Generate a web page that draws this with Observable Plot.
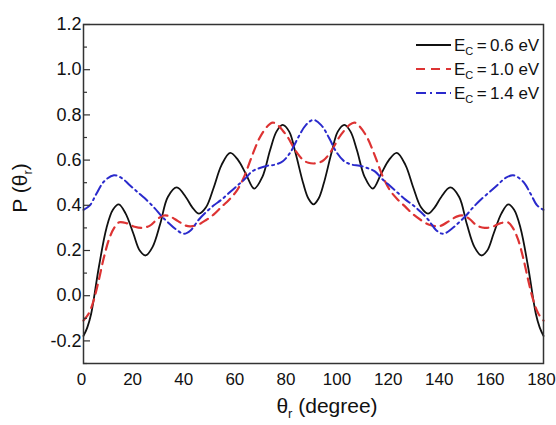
<!DOCTYPE html>
<html>
<head>
<meta charset="utf-8">
<script src="https://cdn.jsdelivr.net/npm/d3@7"></script>
<script src="https://cdn.jsdelivr.net/npm/@observablehq/plot@0.6"></script>
<style>
  html, body { margin: 0; padding: 0; background: #fff; }
  svg { display: block; }
</style>
</head>
<body>
<div id="chart"></div>
<script>
// ---- data ----
const seriesNames = ["E_C = 0.6 eV", "E_C = 1.0 eV", "E_C = 1.4 eV"];
const legendValues = ["0.6", "1.0", "1.4"];

const thetaBlack = [0, 1.5, 3, 6, 9, 11.5, 13.8, 16.5, 19.5, 22, 24.3, 27, 30, 33, 36.5, 40, 42.5, 45.2, 48, 51, 54, 57.4, 60.5, 63.5, 66.8, 70, 73, 75.5, 77.9, 80.5, 83, 86, 88, 90,
  92, 94, 97, 99.5, 102.1, 104.5, 107, 110, 113.2, 116.5, 119.5, 122.6, 126, 129, 132, 134.8, 137.5, 140, 143.5, 147, 150, 153, 155.7, 158, 160.5, 163.5, 166.2, 168.5, 171, 174, 177, 178.5, 180];
const pBlack = [-0.178, -0.14, -0.08, 0.126, 0.30, 0.38, 0.404, 0.363, 0.275, 0.20, 0.178, 0.215, 0.317, 0.437, 0.479, 0.437, 0.392, 0.363, 0.392, 0.48, 0.578, 0.632, 0.60, 0.54, 0.474, 0.526, 0.644, 0.726, 0.756, 0.726, 0.63, 0.496, 0.43, 0.404,
  0.43, 0.496, 0.63, 0.726, 0.756, 0.726, 0.644, 0.526, 0.474, 0.54, 0.60, 0.632, 0.578, 0.48, 0.392, 0.363, 0.392, 0.437, 0.479, 0.437, 0.317, 0.215, 0.178, 0.20, 0.275, 0.363, 0.404, 0.38, 0.30, 0.126, -0.08, -0.14, -0.178];

const thetaRed = [0, 2, 4, 6, 8, 10, 12, 14, 17, 20, 23, 26, 29, 31.5, 34, 37, 40, 42, 45, 48, 51, 54, 57, 60, 63, 66, 69, 72, 74, 76, 78, 80, 82, 84, 86, 88, 90,
  92, 94, 96, 98, 100, 102, 104, 106, 108, 111, 114, 117, 120, 123, 126, 129, 132, 135, 138, 140, 143, 146, 148.5, 151, 154, 157, 160, 163, 166, 168, 170, 172, 174, 176, 178, 180];
const pRed = [-0.11, -0.08, -0.02, 0.07, 0.17, 0.25, 0.30, 0.325, 0.32, 0.305, 0.30, 0.31, 0.34, 0.355, 0.35, 0.33, 0.31, 0.307, 0.315, 0.335, 0.36, 0.393, 0.425, 0.465, 0.53, 0.62, 0.70, 0.75, 0.766, 0.755, 0.73, 0.70, 0.66, 0.625, 0.60, 0.588, 0.585,
  0.588, 0.60, 0.625, 0.66, 0.70, 0.73, 0.755, 0.766, 0.75, 0.70, 0.62, 0.53, 0.465, 0.425, 0.393, 0.36, 0.335, 0.315, 0.307, 0.31, 0.33, 0.35, 0.355, 0.34, 0.31, 0.30, 0.305, 0.32, 0.325, 0.30, 0.25, 0.17, 0.07, -0.02, -0.08, -0.11];

const thetaBlue = [0, 2.5, 5, 8, 11.9, 15, 18, 21, 25, 28, 30.3, 33, 36, 39.3, 42, 45, 48, 51, 54, 57, 60, 63, 66, 69, 72, 75, 78, 81, 84, 87, 90,
  93, 96, 99, 102, 105, 108, 111, 114, 117, 120, 123, 126, 129, 132, 135, 138, 140.7, 144, 147, 149.7, 152, 155, 159, 162, 165, 168.1, 172, 175, 177.5, 180];
const pBlue = [0.38, 0.40, 0.45, 0.505, 0.533, 0.52, 0.49, 0.46, 0.42, 0.385, 0.355, 0.325, 0.295, 0.274, 0.29, 0.335, 0.37, 0.40, 0.425, 0.455, 0.485, 0.515, 0.55, 0.565, 0.575, 0.58, 0.595, 0.635, 0.70, 0.755, 0.778,
  0.755, 0.70, 0.635, 0.595, 0.58, 0.575, 0.565, 0.55, 0.515, 0.485, 0.455, 0.425, 0.40, 0.37, 0.335, 0.29, 0.274, 0.295, 0.325, 0.355, 0.385, 0.42, 0.46, 0.49, 0.52, 0.533, 0.505, 0.45, 0.40, 0.38];

const xTicks = [0, 20, 40, 60, 80, 100, 120, 140, 160, 180];
const xTickLabels = ["0", "20", "40", "60", "80", "100", "120", "140", "160", "180"];
const yTicks = [-0.2, 0.0, 0.2, 0.4, 0.6, 0.8, 1.0, 1.2];
const yTickLabels = ["-0.2", "0.0", "0.2", "0.4", "0.6", "0.8", "1.0", "1.2"];
const yMinorTicks = [-0.3, -0.1, 0.1, 0.3, 0.5, 0.7, 0.9, 1.1];

// ---- tables for the library ----
const toRows = (xs, ys) => xs.map((t, i) => ({theta: t, p: ys[i]}));
const black = toRows(thetaBlack, pBlack);
const red = toRows(thetaRed, pRed);
const blue = toRows(thetaBlue, pBlue);

const colors = ["#111111", "#dd3333", "#2a2acc"];
const dashes = [null, "9,6", "10,4,2,4"];
const widths = [1.8, 2.2, 2.0];

const W = 556, H = 425;
const mL = 83, mR = 13, mT = 24, mB = 62;
const innerW = W - mL - mR;

const svg = Plot.plot({
  width: W,
  height: H,
  marginLeft: mL,
  marginRight: mR,
  marginTop: mT,
  marginBottom: mB,
  style: {background: "#fff", fontFamily: "'Liberation Sans', Arial, sans-serif", color: "#111"},
  x: {domain: [0, 180]},
  y: {domain: [-0.3, 1.2]},
  marks: [
    Plot.line(black, {x: "theta", y: "p", stroke: colors[0], strokeWidth: widths[0], curve: "catmull-rom"}),
    Plot.line(red, {x: "theta", y: "p", stroke: colors[1], strokeWidth: widths[1], strokeDasharray: dashes[1], curve: "catmull-rom"}),
    Plot.line(blue, {x: "theta", y: "p", stroke: colors[2], strokeWidth: widths[2], strokeDasharray: dashes[2], curve: "catmull-rom"}),
    Plot.tickY(yTicks, {y: d => d, insetRight: innerW - 7, stroke: "#333", strokeWidth: 1.2}),
    Plot.tickY(yMinorTicks, {y: d => d, insetRight: innerW - 4, stroke: "#333", strokeWidth: 1.2}),
    Plot.axisX({ticks: xTicks, tickFormat: d => xTickLabels[xTicks.indexOf(d)], tickSize: 0, tickPadding: 9, fontSize: 17, dx: -2, label: null}),
    Plot.axisY({ticks: yTicks, tickFormat: d => yTickLabels[yTicks.indexOf(d)], tickSize: 0, tickPadding: 2, fontSize: 18, label: null}),
    Plot.frame({stroke: "#333", strokeWidth: 1.5})
  ]
});

const s = d3.select(svg);
const font = "'Liberation Sans', Arial, sans-serif";

// legend
legendValues.forEach((v, i) => {
  const yy = 45 + i * 24;
  s.append("line")
    .attr("x1", 416).attr("x2", 451).attr("y1", yy).attr("y2", yy)
    .attr("stroke", colors[i]).attr("stroke-width", widths[i])
    .attr("stroke-dasharray", dashes[i]);
  const t = s.append("text")
    .attr("x", 454).attr("y", yy + 6)
    .attr("text-anchor", "start")
    .attr("font-family", font).attr("font-size", 17).attr("fill", "#111");
  t.append("tspan").text("E");
  t.append("tspan").attr("dy", 4).attr("font-size", 11).text("C");
  t.append("tspan").attr("dy", -4).text("\u2009=\u2009" + v + " eV");
});

// axis titles
const yl = s.append("text")
  .attr("transform", "translate(27,188) rotate(-90)")
  .attr("text-anchor", "middle")
  .attr("font-family", font).attr("font-size", 21).attr("fill", "#111");
yl.append("tspan").text("P (\u03b8");
yl.append("tspan").attr("dy", 5).attr("font-size", 13).text("r");
yl.append("tspan").attr("dy", -5).text(")");

const xl = s.append("text")
  .attr("x", 327).attr("y", 413)
  .attr("text-anchor", "middle")
  .attr("font-family", font).attr("font-size", 21).attr("fill", "#111");
xl.append("tspan").text("\u03b8");
xl.append("tspan").attr("dy", 5).attr("font-size", 13).text("r");
xl.append("tspan").attr("dy", -5).text(" (degree)");

document.getElementById("chart").appendChild(svg);
</script>
</body>
</html>
